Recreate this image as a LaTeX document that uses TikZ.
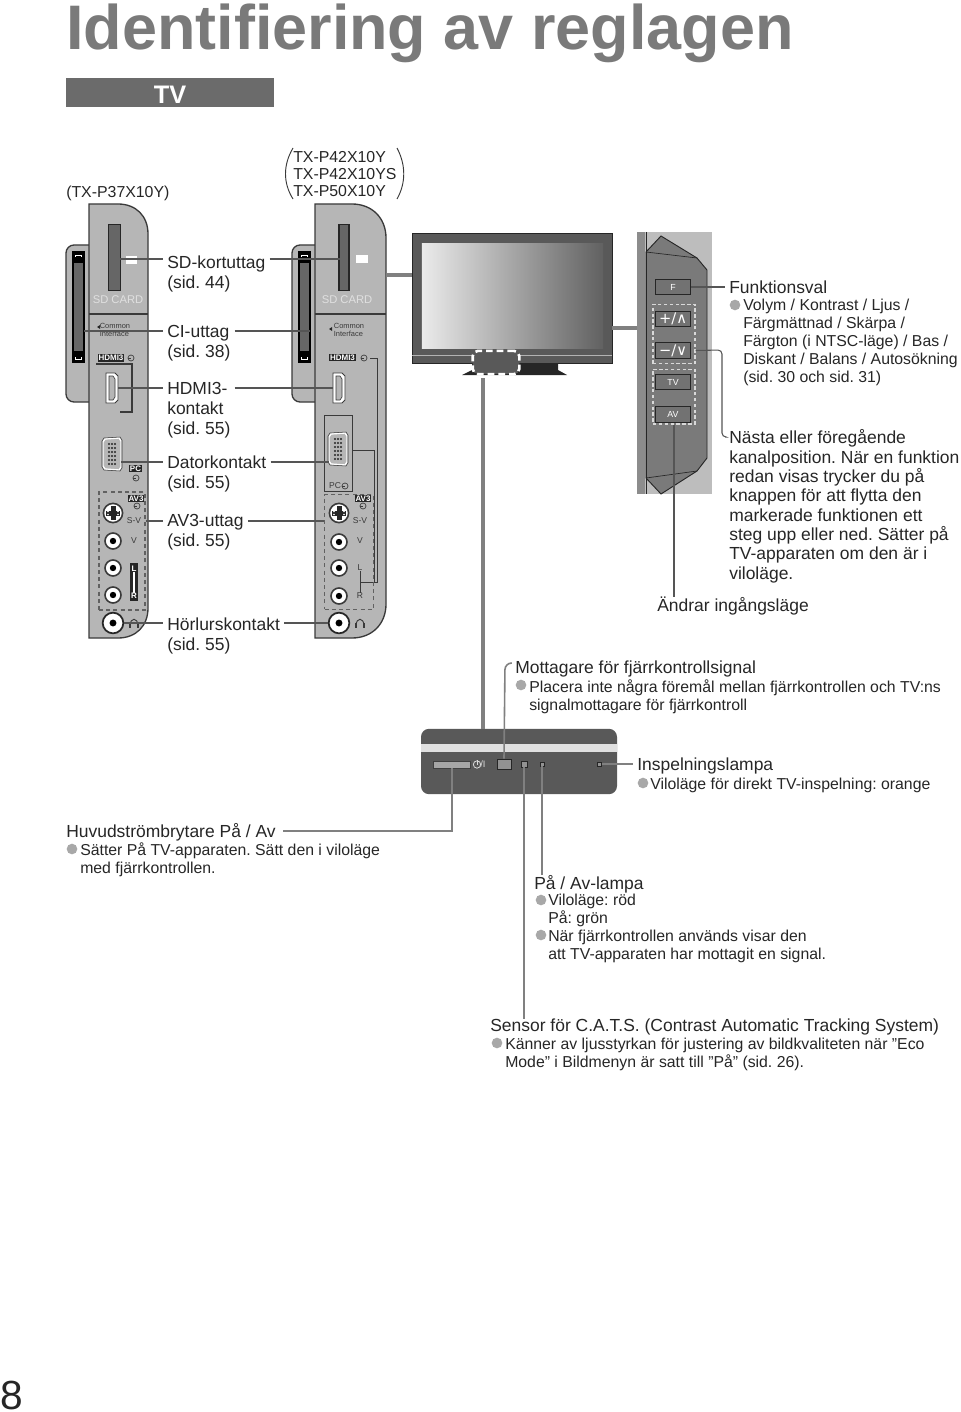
\documentclass[tikz,border=0pt]{standalone}
\usepackage{xcolor}
\usepackage{fontspec}
\setmainfont{Liberation Sans}
\newfontfamily\symfont{DejaVu Sans}
\usepackage{tikz}
\AtBeginDocument{\frenchspacing}

\definecolor{panelGrey}{HTML}{B6B6B6}
\definecolor{edgeGrey}{HTML}{3A3A3A}
\definecolor{slotGrey}{HTML}{666666}
\definecolor{leadGrey}{HTML}{555555}
\definecolor{thickGrey}{HTML}{808080}
\definecolor{dotGrey}{HTML}{A8A8A8}
\definecolor{bodyGrey}{HTML}{595959}
\definecolor{inkBlack}{HTML}{262626}

\tikzset{
    panelEdge/.style={draw=edgeGrey, fill=panelGrey, line width=1pt},
    leadLine/.style={draw=leadGrey, line width=0.8pt},
    barLead/.style={draw=thickGrey, line width=1.2pt},
    feedLine/.style={draw=thickGrey, line width=2.4pt},
    slotNode/.style={rectangle, draw=inkBlack, fill=slotGrey, line width=0.9pt, inner sep=0pt},
    tagNode/.style={rectangle, fill=inkBlack, text=white, inner sep=0.6pt, font=\bfseries\fontsize{6}{6}\selectfont},
    smallText/.style={inner sep=0pt, text=edgeGrey, font=\fontsize{5.6}{6.6}\selectfont, align=left},
    cardText/.style={inner sep=0pt, text=white!88!black, font=\fontsize{8.4}{9}\selectfont},
    inputMark/.style={circle, draw=edgeGrey, line width=0.5pt, minimum size=4.5pt, inner sep=0pt,
        path picture={\draw[edgeGrey, line width=0.5pt] (path picture bounding box.west) -- (path picture bounding box.center);}},
    avBox/.style={rectangle, draw=edgeGrey!80, line width=1pt, dash pattern=on 3pt off 2.4pt},
    rcaNode/.style={circle, draw=edgeGrey, fill=white, line width=1.2pt, minimum size=12pt, inner sep=0pt,
        path picture={\fill[black] (path picture bounding box.center) circle (2.4pt);}},
    jackNode/.style={circle, draw=inkBlack, fill=white, line width=1.3pt, minimum size=15.5pt, inner sep=0pt,
        path picture={\fill[black] (path picture bounding box.center) circle (2.6pt);}},
    keyNode/.style={rectangle, draw=inkBlack, fill=bodyGrey!85!white, text=white, line width=0.7pt,
        minimum width=26pt, minimum height=11.5pt, inner sep=0pt, font=\fontsize{6.6}{7}\selectfont},
    keyBox/.style={rectangle, draw=white!85!black, line width=1pt, dash pattern=on 2.6pt off 1.8pt},
    labelNode/.style={anchor=north west, inner xsep=3pt, inner ysep=0pt, align=left, text=inkBlack,
        font=\fontsize{13.1}{15}\selectfont},
    listNode/.style={anchor=north west, inner sep=0pt, align=left, text=inkBlack,
        font=\fontsize{11.86}{13.5}\selectfont},
    bulletNode/.style={circle, fill=dotGrey, minimum size=8pt, inner sep=0pt},
    ledNode/.style={rectangle, draw=inkBlack, fill=panelGrey!80!black, line width=0.6pt, inner sep=0pt},
    % connector blocks shared by both side panels
    vgaPort/.pic={
        \draw[draw=white, fill=panelGrey, line width=1pt] (-7,-15) -- (7,-16) -- (9,-13) -- (9,13) -- (7,16) -- (-7,15) -- (-9,12) -- (-9,-12) -- cycle;
        \draw[draw=edgeGrey, line width=0.4pt] (-8,-16) -- (8,-17) -- (10,-14) -- (10,14) -- (8,17) -- (-8,16) -- (-10,13) -- (-10,-13) -- cycle;
        \foreach \row in {-10,-6,-2,2,6,10} {
            \foreach \col in {-3,0,3} { \fill[inkBlack] (\col,\row) circle (0.8pt); }
        }
    },
    hdmiPort/.pic={
        \draw[draw=edgeGrey, fill=white, line width=0.6pt] (-6,-15) -- (3,-15) -- (6,-12) -- (6,12) -- (3,15) -- (-6,15) -- cycle;
        \draw[draw=edgeGrey, fill=panelGrey, line width=0.5pt] (-3,-12) -- (1,-12) -- (3,-9) -- (3,9) -- (1,12) -- (-3,12) -- cycle;
    },
    svideoPort/.pic={
        \draw[draw=edgeGrey, fill=white, line width=1.2pt] (0,0) circle (7.2pt);
        \fill[inkBlack] (-7,-2.5) rectangle (7,2.5);
        \fill[inkBlack] (-2.5,-7) rectangle (2.5,7);
        \foreach \col in {-5,5} {
            \foreach \row in {-1.5,1.5} { \fill[white] (\col,\row) circle (0.7pt); }
        }
    },
    ciPort/.pic={
        \fill[black] (-6.5,-56) rectangle (6.5,56);
        \fill[slotGrey] (-4.5,-44) rectangle (4.5,44);
        \draw[white, line width=0.5pt] (-3,-50) -- (-3,-52) -- (3,-52) -- (3,-50);
        \draw[white, line width=0.5pt] (-3,50) -- (-3,52) -- (3,52) -- (3,50);
    },
    phoneMark/.pic={
        \draw[edgeGrey, line width=0.7pt] (-4,3) .. controls (-4,-6) and (4,-6) .. (4,3);
        \fill[edgeGrey] (-5,0) rectangle (-3,5);
        \fill[edgeGrey] (3,0) rectangle (5,5);
    },
}

\begin{document}
\begin{tikzpicture}[x=0.75pt, y=-0.75pt]
    \useasboundingbox (0,0) rectangle (960,1412);

    % page head
    \node[anchor=base west, inner sep=0pt, text=black!52, font=\bfseries\fontsize{47.2}{48}\selectfont] (pageTitle) at (66,50) {Identifiering av reglagen};
    \node[rectangle, fill=black!58, text=white, minimum width=156pt, minimum height=22pt, inner sep=0pt, text height=16.6pt, font=\bfseries\fontsize{19}{20}\selectfont] (tvBar) at (170,92.5) {TV};
    \node[anchor=west, inner sep=0pt, text=inkBlack, font=\fontsize{11.9}{13}\selectfont] (smallModel) at (66,193) {(TX-P37X10Y)};
    \node[anchor=north west, inner sep=0pt, align=left, text=inkBlack, font=\fontsize{11.9}{12.9}\selectfont] (bigModel) at (293,151) {TX-P42X10Y\\TX-P42X10YS\\TX-P50X10Y};
    \draw[edgeGrey, line width=0.7pt] (293,148) .. controls (283,165) and (283,183) .. (293,199);
    \draw[edgeGrey, line width=0.7pt] (397,148) .. controls (406,165) and (406,183) .. (397,199);

    % left side panel
    \draw[panelEdge, rounded corners=6pt] (89,245) -- (66,245) -- (66,402) -- (89,402);
    \draw[panelEdge] (89,204) -- (118,204) .. controls (136,204) and (148,216) .. (148,234) -- (148,608) .. controls (148,626) and (136,638) .. (118,638) -- (89,638) -- cycle;
    \draw[edgeGrey, line width=0.8pt] (89,314) -- (148,314);
    \node[slotNode, minimum width=8.5pt, minimum height=49pt] (sdSlotLeft) at (114.5,257.5) {};
    \node[rectangle, fill=white, minimum width=8pt, minimum height=6pt, inner sep=0pt] (sdIconLeft) at (131.5,260) {};
    \node[cardText] (sdTextLeft) at (118,300) {SD CARD};
    \pic at (78.5,307) {ciPort};
    \node[smallText] (ciTextLeft) at (115,330) {Common\\Interface};
    \fill[inkBlack] (97,327) -- (100,325) -- (100,329) -- cycle;
    \node[tagNode] (hdmiTagLeft) at (111,358) {HDMI3};
    \node[inputMark] (hdmiMarkLeft) at (131,358) {};
    \pic at (112,388) {hdmiPort};
    \draw[edgeGrey, line width=1pt] (96,364) -- (132,364) -- (132,412) -- (120,412);
    \pic at (112,454) {vgaPort};
    \node[tagNode] (pcTagLeft) at (135.5,468.5) {PC};
    \node[inputMark] (pcMarkLeft) at (136,478) {};
    \node[avBox, minimum width=34.5pt, minimum height=88.5pt, inner sep=0pt] (avBoxLeft) at (122,551) {};
    \node[tagNode] (avTagLeft) at (136,498.5) {AV3};
    \node[inputMark] (avMarkLeft) at (137,506) {};
    \node[smallText, font=\fontsize{6.4}{7}\selectfont] (svTextLeft) at (134,521) {S-V};
    \pic at (113,513) {svideoPort};
    \node[rcaNode] (videoLeft) at (113,541) {};
    \node[rcaNode] (audioLeftA) at (113,568) {};
    \node[rcaNode] (audioLeftB) at (113,595) {};
    \node[smallText, font=\fontsize{6.4}{7}\selectfont] (vTextLeft) at (134,541) {V};
    \node[rectangle, fill=inkBlack, minimum width=6pt, minimum height=28.5pt, inner sep=0pt] (lrBarLeft) at (134,582) {};
    \node[inner sep=0pt, text=white, font=\bfseries\fontsize{6}{6}\selectfont] (lTextLeft) at (134,569) {L};
    \node[inner sep=0pt, text=white, font=\bfseries\fontsize{6}{6}\selectfont] (rTextLeft) at (134,596) {R};
    \draw[white, line width=0.8pt] (lTextLeft.south) -- (rTextLeft.north);
    \node[jackNode] (jackLeft) at (113,623) {};
    \pic at (134,623) {phoneMark};

    % right side panel
    \draw[panelEdge, rounded corners=6pt] (315,245) -- (292,245) -- (292,402) -- (315,402);
    \draw[panelEdge] (315,204) -- (352,204) .. controls (372,204) and (386,218) .. (386,238) -- (386,604) .. controls (386,624) and (372,638) .. (352,638) -- (315,638) -- cycle;
    \draw[edgeGrey, line width=0.8pt] (315,314) -- (386,314);
    \node[slotNode, minimum width=7.5pt, minimum height=49pt] (sdSlotRight) at (344,257.5) {};
    \node[rectangle, fill=white, minimum width=9pt, minimum height=6pt, inner sep=0pt] (sdIconRight) at (362,259) {};
    \node[cardText] (sdTextRight) at (347,300) {SD CARD};
    \pic at (304.5,307) {ciPort};
    \node[smallText] (ciTextRight) at (349,330) {Common\\Interface};
    \fill[inkBlack] (329,329) -- (332,327) -- (332,331) -- cycle;
    \node[tagNode] (hdmiTagRight) at (342.5,357.5) {HDMI3};
    \node[inputMark] (hdmiMarkRight) at (364,358) {};
    \pic at (339,388) {hdmiPort};
    \draw[edgeGrey, line width=0.6pt] (370,358) -- (377,358) -- (377,582) -- (360,582);
    \draw[edgeGrey, line width=0.6pt] (352,450) -- (374,450) -- (374,582);
    \draw[edgeGrey, line width=0.6pt] (352,415) -- (324,415) -- (324,491) -- (352,491) -- cycle;
    \pic at (338,449) {vgaPort};
    \node[smallText, font=\fontsize{6.4}{7}\selectfont] (pcTextRight) at (335,486) {PC};
    \node[inputMark] (pcMarkRight) at (345,486) {};
    \node[avBox, minimum width=36.5pt, minimum height=86pt, inner sep=0pt] (avBoxRight) at (349,552) {};
    \node[tagNode] (avTagRight) at (363,498.5) {AV3};
    \node[inputMark] (avMarkRight) at (363,506) {};
    \node[smallText, font=\fontsize{6.4}{7}\selectfont] (svTextRight) at (360,521) {S-V};
    \pic at (339,513) {svideoPort};
    \node[rcaNode] (videoRight) at (339,542) {};
    \node[rcaNode] (audioRightA) at (339,568) {};
    \node[rcaNode] (audioRightB) at (339,596) {};
    \node[smallText, font=\fontsize{6.4}{7}\selectfont] (vTextRight) at (360,541) {V};
    \node[smallText, font=\fontsize{6.4}{7}\selectfont] (lTextRight) at (360,568) {L};
    \node[smallText, font=\fontsize{6.4}{7}\selectfont] (rTextRight) at (360,596) {R};
    \draw[edgeGrey, line width=0.6pt] (lTextRight.south) -- (rTextRight.north);
    \node[jackNode] (jackRight) at (339,623) {};
    \pic at (360,623) {phoneMark};

    % port labels between the panels
    \node[labelNode] (sdLabel) at (163,256) {SD-kortuttag\\(sid. 44)};
    \node[labelNode] (ciLabel) at (163,325) {CI-uttag\\(sid. 38)};
    \node[labelNode] (hdmiLabel) at (163,382) {HDMI3-\\kontakt\\(sid. 55)};
    \node[labelNode] (pcLabel) at (163,456) {Datorkontakt\\(sid. 55)};
    \node[labelNode] (avLabel) at (163,514) {AV3-uttag\\(sid. 55)};
    \node[labelNode] (phoneLabel) at (163,618) {Hörlurskontakt\\(sid. 55)};
    \coordinate (sdPortA) at (120,259);
    \coordinate (sdPortB) at (340,259);
    \coordinate (ciPortA) at (84,331);
    \coordinate (ciPortB) at (310,331);
    \coordinate (hdmiPortA) at (118,388);
    \coordinate (hdmiPortB) at (333,388);
    \coordinate (pcPortA) at (121,462);
    \coordinate (pcPortB) at (329,462);
    \coordinate (avPortA) at (avBoxLeft.east |- 0,521);
    \coordinate (avPortB) at (avBoxRight.west |- 0,521);
    \coordinate (phonePortA) at (jackLeft.east);
    \coordinate (phonePortB) at (jackRight.west);
    \draw[leadLine] (sdPortA) -- (sdPortA -| sdLabel.west);
    \draw[leadLine] (sdPortB -| sdLabel.east) -- (sdPortB);
    \draw[leadLine] (ciPortA) -- (ciPortA -| ciLabel.west);
    \draw[leadLine] (ciPortB -| ciLabel.east) -- (ciPortB);
    \draw[leadLine] (hdmiPortA) -- (hdmiPortA -| hdmiLabel.west);
    \draw[leadLine] (hdmiPortB -| hdmiLabel.east) -- (hdmiPortB);
    \draw[leadLine] (pcPortA) -- (pcPortA -| pcLabel.west);
    \draw[leadLine] (pcPortB -| pcLabel.east) -- (pcPortB);
    \draw[leadLine] (avPortA) -- (avPortA -| avLabel.west);
    \draw[leadLine] (avPortB -| avLabel.east) -- (avPortB);
    \draw[leadLine] (phonePortA) -- (phonePortA -| phoneLabel.west);
    \draw[leadLine] (phonePortB -| phoneLabel.east) -- (phonePortB);

    % television
    \fill[inkBlack] (472,363) -- (558,363) -- (558,370) -- (567,375) -- (462,375) -- (472,370) -- cycle;
    \node[rectangle, fill=bodyGrey, draw=inkBlack, line width=0.7pt, minimum width=150pt, minimum height=97.5pt, inner sep=0pt] (tvBody) at (512,298) {};
    \node[rectangle, left color=white!92!black, middle color=black!28, right color=black!62, minimum width=136pt, minimum height=78pt, inner sep=0pt] (tvScreen) at (512.5,296) {};
    \draw[black!30, line width=0.5pt] (tvBody.west |- 0,355) -- (tvBody.east |- 0,355);
    \node[rectangle, rounded corners=4pt, fill=bodyGrey, draw=white, line width=2pt, dash pattern=on 5pt off 3pt, minimum width=35pt, minimum height=17.5pt, inner sep=0pt] (sensorBox) at (496,362.5) {};
    \coordinate (sideJoin) at (tvBody.west |- 0,275);
    \coordinate (keyJoin) at (tvBody.east |- 0,328);
    \draw[feedLine] (386,275) -- (sideJoin);

    % button strip
    \node[rectangle, fill=panelGrey!90!white, minimum width=56pt, minimum height=196.5pt, inner sep=0pt] (keyPanel) at (674.5,363) {};
    \fill[black!45] (637,232) rectangle (645,494);
    \draw[draw=inkBlack, fill=bodyGrey!80!white, line width=0.7pt] (646,252) -- (661,236) -- (697,258) -- (707,270) -- (707,458) -- (697,471) -- (661,494) -- (646,478) -- cycle;
    \draw[inkBlack, line width=0.6pt] (646,232) -- (646,494);
    \draw[inkBlack, line width=0.5pt] (646,252) -- (697,258);
    \draw[inkBlack, line width=0.5pt] (646,478) -- (697,471);
    \node[keyNode] (keyF) at (673,287) {F};
    \node[keyNode, font=\symfont\fontsize{11}{11}\selectfont] (keyUp) at (673,319) {+/∧};
    \node[keyNode, font=\symfont\fontsize{11}{11}\selectfont] (keyDown) at (673,350.5) {−/∨};
    \node[keyNode] (keyTv) at (673,382) {TV};
    \node[keyNode] (keyAv) at (673,414.5) {AV};
    \node[keyBox, minimum width=31.5pt, minimum height=44.5pt, inner sep=0pt] (keyBoxA) at (674,334) {};
    \node[keyBox, minimum width=31.5pt, minimum height=41pt, inner sep=0pt] (keyBoxB) at (674,396.5) {};
    \draw[feedLine] (keyJoin) -- (keyPanel.west |- 0,328);

    % button strip captions
    \node[labelNode] (funcLabel) at (725,281) {Funktionsval};
    \node[bulletNode] (funcDot) at (735,305) {};
    \node[listNode] (funcList) at (743,299) {Volym / Kontrast / Ljus /\\Färgmättnad / Skärpa /\\Färgton (i NTSC-läge) / Bas /\\Diskant / Balans / Autosökning\\(sid. 30 och sid. 31)};
    \node[labelNode, font=\fontsize{13.1}{14.5}\selectfont] (stepLabel) at (725,429.5) {Nästa eller föregående\\kanalposition. När en funktion\\redan visas trycker du på\\knappen för att flytta den\\markerade funktionen ett\\steg upp eller ned. Sätter på\\TV-apparaten om den är i\\viloläge.};
    \node[labelNode] (inputLabel) at (653,597) {Ändrar ingångsläge};
    \coordinate (stepTurn) at (722,350);
    \draw[leadLine] (keyF.east) -- (funcLabel.west |- keyF.east);
    \draw[leadLine, rounded corners=3pt] (keyBoxA.east |- keyDown.east) -- (stepTurn) -- (stepTurn |- 0,437) -- (stepLabel.west |- 0,437);
    \draw[leadLine] (keyBoxB.south) -- (keyBoxB.south |- inputLabel.north);

    % front indicator bar
    \node[rectangle, rounded corners=6pt, fill=bodyGrey, minimum width=147pt, minimum height=49pt, inner sep=0pt] (frontBar) at (519,761.5) {};
    \fill[white!88!black] (frontBar.west |- 0,744) rectangle (frontBar.east |- 0,752);
    \node[rectangle, fill=black!35, draw=black!75, line width=0.4pt, minimum width=28pt, minimum height=5pt, inner sep=0pt] (powerKey) at (452,764.5) {};
    \node[circle, draw=white!85!black, line width=0.6pt, minimum size=5.5pt, inner sep=0pt] (powerRing) at (477,764.5) {};
    \draw[white!85!black, line width=0.6pt] (powerRing.north) -- (powerRing.center);
    \node[anchor=west, inner sep=0pt, text=white!85!black, font=\fontsize{7}{7}\selectfont] (powerText) at (480,764.5) {/I};
    \node[ledNode, minimum width=10.5pt, minimum height=7.5pt] (remoteEye) at (504,764) {};
    \node[ledNode, minimum size=4.5pt] (catsEye) at (524,764) {};
    \node[ledNode, minimum size=3pt] (powerLed) at (542,764) {};
    \node[ledNode, minimum size=3pt] (recLed) at (599.5,764) {};

    % feed lines into the bar
    \coordinate (feedTop) at (483,378);
    \draw[feedLine] (feedTop) -- (feedTop |- frontBar.north);
    \coordinate (remoteTurn) at (505,663);
    \node[labelNode] (remoteLabel) at (511,661) {Mottagare för fjärrkontrollsignal};
    \node[bulletNode] (remoteDot) at (521,685) {};
    \node[listNode] (remoteList) at (529,679) {Placera inte några föremål mellan fjärrkontrollen och TV:ns\\signalmottagare för fjärrkontroll};
    \draw[barLead, rounded corners=5pt] (remoteEye.north) -- (remoteTurn) -- (remoteLabel.west |- remoteTurn);

    \node[labelNode] (recLabel) at (633,758) {Inspelningslampa};
    \node[bulletNode] (recDot) at (643,783) {};
    \node[listNode] (recList) at (650,778) {Viloläge för direkt TV-inspelning: orange};
    \draw[barLead] (recLed.east) -- (recLabel.west |- recLed.east);

    \node[labelNode] (mainLabel) at (62,823) {Huvudströmbrytare På / Av};
    \node[bulletNode] (mainDot) at (72,849) {};
    \node[listNode] (mainList) at (80,842) {Sätter På TV-apparaten. Sätt den i viloläge\\med fjärrkontrollen.};
    \coordinate (mainTurn) at (powerKey.south |- 0,831);
    \draw[barLead] (powerKey.south) -- (mainTurn) -- (283,831);

    \node[labelNode] (ledLabel) at (530,875) {På / Av-lampa};
    \node[bulletNode] (ledDotA) at (541,900) {};
    \node[bulletNode] (ledDotB) at (541,935) {};
    \node[listNode] (ledList) at (548,894) {Viloläge: röd\\På: grön\\När fjärrkontrollen används visar den\\att TV-apparaten har mottagit en signal.};
    \draw[barLead] (powerLed.south) -- (powerLed.south |- ledLabel.north);

    \node[labelNode] (catsLabel) at (486,1019) {Sensor för C.A.T.S. (Contrast Automatic Tracking System)};
    \node[bulletNode] (catsDot) at (497,1043) {};
    \node[listNode] (catsList) at (505,1038) {Känner av ljusstyrkan för justering av bildkvaliteten när ”Eco\\Mode” i Bildmenyn är satt till ”På” (sid. 26).};
    \draw[barLead] (catsEye.south) -- (catsEye.south |- catsLabel.north);

    % page number
    \node[anchor=base, inner sep=0pt, text=inkBlack, font=\fontsize{30.5}{32}\selectfont] (pageNumber) at (12,1409) {8};
\end{tikzpicture}
\end{document}
